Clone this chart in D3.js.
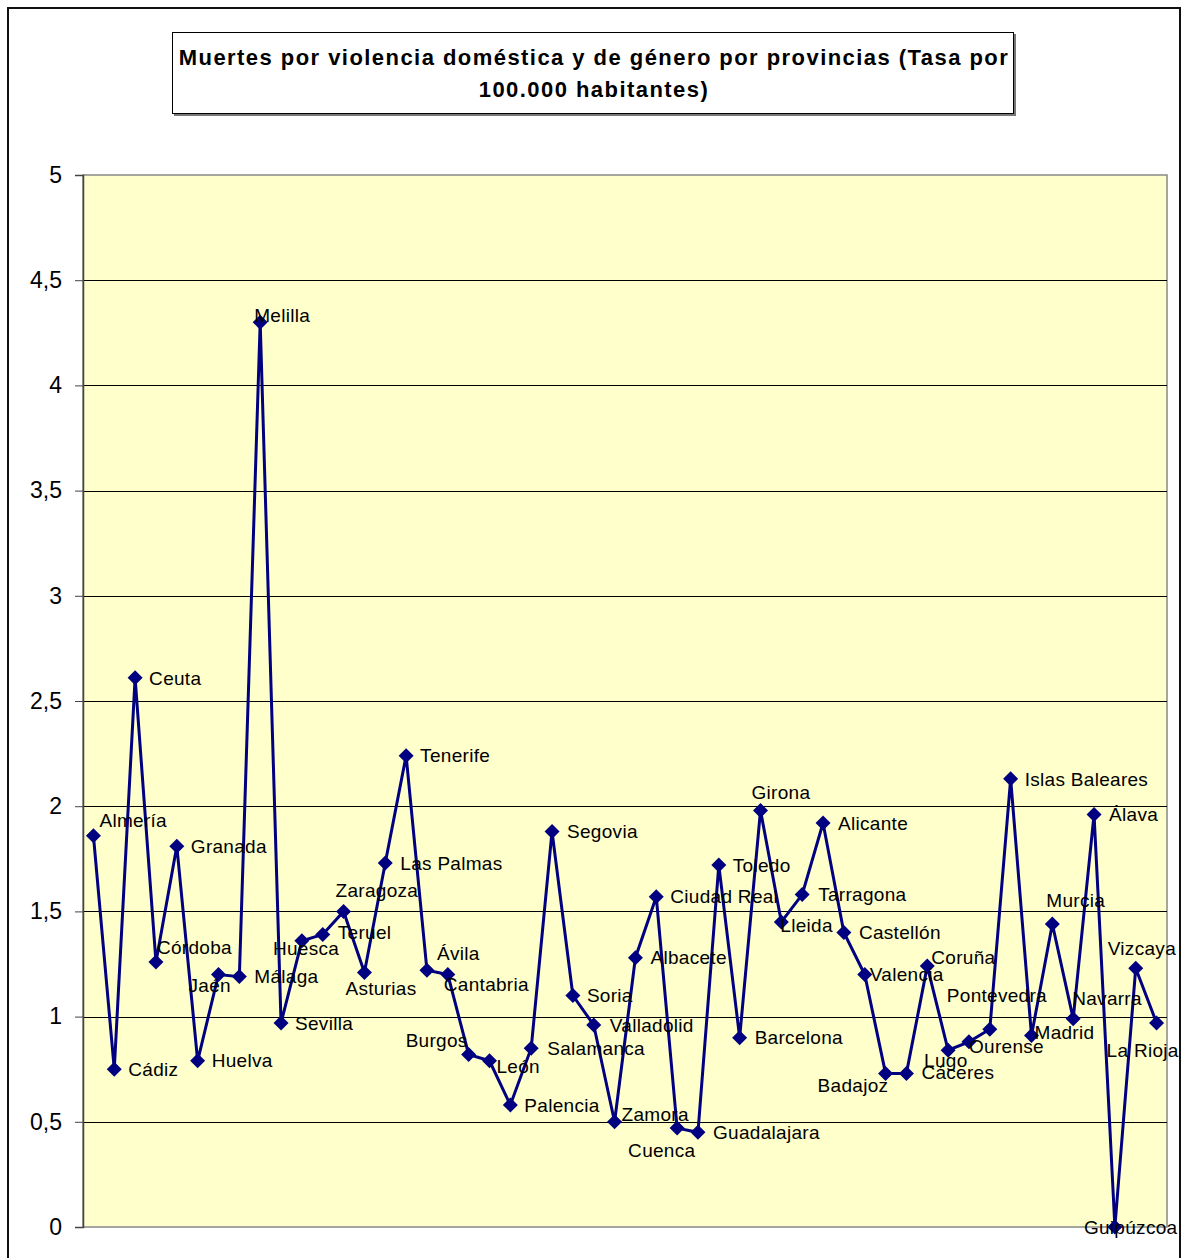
<!DOCTYPE html>
<html>
<head>
<meta charset="utf-8">
<script src="https://cdn.jsdelivr.net/npm/d3@7"></script>
<style>
  html, body { margin: 0; padding: 0; background: #fff; }
  svg { display: block; font-family: "Liberation Sans", Arial, sans-serif; }
</style>
</head>
<body>
<svg id="chart" width="1185" height="1258"></svg>
<script>
// ---- Data ----
const provinces = ["Almería","Cádiz","Ceuta","Córdoba","Granada","Huelva","Jaén","Málaga","Melilla","Sevilla",
  "Huesca","Teruel","Zaragoza","Asturias","Las Palmas","Tenerife","Ávila","Cantabria","Burgos","León",
  "Palencia","Salamanca","Segovia","Soria","Valladolid","Zamora","Albacete","Ciudad Real","Cuenca","Guadalajara",
  "Toledo","Barcelona","Girona","Lleida","Tarragona","Alicante","Castellón","Valencia","Badajoz","Cáceres",
  "Coruña","Lugo","Ourense","Pontevedra","Islas Baleares","Madrid","Murcia","Navarra","Álava","Guipúzcoa",
  "Vizcaya","La Rioja"];
const rates = [1.86,0.75,2.61,1.26,1.81,0.79,1.20,1.19,4.30,0.97,
  1.36,1.39,1.50,1.21,1.73,2.24,1.22,1.20,0.82,0.79,
  0.58,0.85,1.88,1.10,0.96,0.50,1.28,1.57,0.47,0.45,
  1.72,0.90,1.98,1.45,1.58,1.92,1.40,1.20,0.73,0.73,
  1.24,0.84,0.88,0.94,2.13,0.91,1.44,0.99,1.96,0.00,
  1.23,0.97];
const yTicks = [0,0.5,1,1.5,2,2.5,3,3.5,4,4.5,5];
const titleLines = ["Muertes por violencia doméstica y de género por provincias (Tasa por","100.000 habitantes)"];

// label placement offsets (pixels, relative to the point) — layout only
const labelOffsets = [
  [6,-15],[14,0],[14,0],[1,-15],[14,0],[14,0],[-30,11],[15,0],[-6,-7],[14,0],
  [-29,7],[15,-2],[-8,-21],[-19,16],[15,0],[14,0],[10,-17],[-4,10],[-63,-14],[7,6],
  [14,0],[16,0],[15,0],[14,0],[16,0],[7,-8],[15,0],[14,0],[-49,22],[15,0],
  [14,0],[15,0],[-9,-18],[-1,3],[16,0],[15,0],[15,0],[5,0],[-68,12],[15,-1],
  [4,-9],[-24,10],[0,4],[-43,-34],[14,0],[3,-3],[-6,-24],[-1,-20],[15,0],[-31,0],
  [-28,-20],[-50,27]
];

// ---- Layout ----
const svg = d3.select("#chart");
const plot = {left: 83, right: 1167, top: 175, bottom: 1227};

// outer chart border
svg.append("rect").attr("x", 8).attr("y", 8).attr("width", 1172).attr("height", 1300)
  .attr("fill", "#fff").attr("stroke", "#111").attr("stroke-width", 2);

// title box
svg.append("rect").attr("x", 174).attr("y", 34).attr("width", 842).attr("height", 82).attr("fill", "#777");
svg.append("rect").attr("x", 172.5).attr("y", 32.5).attr("width", 841).attr("height", 81)
  .attr("fill", "#fff").attr("stroke", "#000").attr("stroke-width", 1);
svg.append("g").selectAll("text").data(titleLines).join("text")
  .attr("x", 594).attr("y", (d, i) => 65 + i * 32)
  .attr("text-anchor", "middle").attr("font-weight", "bold").attr("font-size", "22px")
  .attr("letter-spacing", "1.45px")
  .attr("fill", "#000").text(d => d);

// scales
const x = d3.scalePoint().domain(provinces).range([plot.left, plot.right]).padding(0.5);
const y = d3.scaleLinear().domain([0, 5]).range([plot.bottom, plot.top]);

// plot background
svg.append("rect").attr("x", plot.left).attr("y", plot.top)
  .attr("width", plot.right - plot.left).attr("height", plot.bottom - plot.top)
  .attr("fill", "#FFFFCC").attr("stroke", "#888").attr("stroke-width", 1.5);

// gridlines
svg.append("g").selectAll("line").data(yTicks.filter(t => t > 0 && t < 5)).join("line")
  .attr("x1", plot.left).attr("x2", plot.right)
  .attr("y1", d => Math.round(y(d)) + 0.5).attr("y2", d => Math.round(y(d)) + 0.5)
  .attr("stroke", "#000").attr("stroke-width", 1);

// y axis
const yAxis = d3.axisLeft(y).tickValues(yTicks).tickSize(8).tickPadding(13)
  .tickFormat(d => String(d).replace(".", ","));
const ga = svg.append("g").attr("transform", `translate(${plot.left},0)`).call(yAxis);
ga.select(".domain").attr("stroke", "#444").attr("stroke-width", 1.5);
ga.selectAll(".tick line").attr("stroke", "#444");
ga.selectAll(".tick text").attr("font-size", "23px").attr("fill", "#000")
  .attr("font-family", "'Liberation Sans', Arial, sans-serif");

// line
const line = d3.line().x((d, i) => x(provinces[i])).y(d => y(d));
svg.append("path").datum(rates).attr("d", line)
  .attr("fill", "none").attr("stroke", "#000080").attr("stroke-width", 3).attr("stroke-linejoin", "miter");

// markers
const diamond = "M0,-7.5L7.5,0L0,7.5L-7.5,0Z";
svg.append("g").selectAll("path").data(rates).join("path")
  .attr("d", diamond)
  .attr("transform", (d, i) => `translate(${x(provinces[i])},${y(d)})`)
  .attr("fill", "#000080");

// labels
svg.append("g").selectAll("text").data(rates).join("text")
  .attr("x", (d, i) => x(provinces[i]) + labelOffsets[i][0])
  .attr("y", (d, i) => y(d) + labelOffsets[i][1] + 6.7)
  .attr("font-size", "19px").attr("letter-spacing", "0.3px").attr("fill", "#000")
  .text((d, i) => provinces[i]);
</script>
</body>
</html>
